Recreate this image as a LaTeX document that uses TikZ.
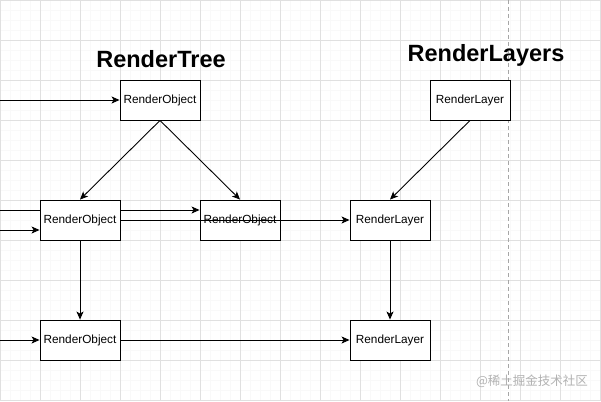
\documentclass[tikz,border=0pt]{standalone}
\usepackage{fontspec}
\setmainfont{Liberation Sans}
\newfontfamily\cjk{Noto Sans CJK SC}
\usetikzlibrary{arrows.meta}
\tikzset{
every picture/.style={
line width=0.9pt
}}

\begin{document}
\begin{tikzpicture}[x=1pt, y=-1pt, >={Stealth[length=8pt,width=7pt,inset=2pt]},
box/.style = {rectangle, draw=black, fill=white, minimum width=80pt, minimum height=40pt, inner sep=0pt, font=\fontsize{11.8}{14}\selectfont},
heading/.style = {font=\fontsize{23.5}{28}\selectfont\bfseries},
minorline/.style = {draw=black!2.5, line width=0.5pt},
majorline/.style = {draw=black!12, line width=0.6pt}]
\useasboundingbox (0,0) rectangle (601,401);
\fill[white] (0,0) rectangle (601,401);
% grid
\foreach \x in {0,10,...,600} \draw[minorline] (\x,0) -- (\x,401);
\foreach \y in {0,10,...,400} \draw[minorline] (0,\y) -- (601,\y);
\foreach \x in {0,40,...,600} \draw[majorline] (\x,0) -- (\x,401);
\foreach \y in {0,40,...,400} \draw[majorline] (0,\y) -- (601,\y);
\draw[dashed, draw=black!35, dash pattern=on 4pt off 3pt] (508,0) -- (508,401);

\node[heading] at (161,59) (treetitle) {RenderTree};
\node[heading] at (486,55) (layertitle) {RenderLayers};

\coordinate (in1) at (0,100);
\coordinate (in2) at (0,210);
\coordinate (in3) at (0,230);
\coordinate (in4) at (0,340);

\node[box] at (160,100) (rotop) {RenderObject};
\node[box] at (240,220) (romid) {RenderObject};
\draw [->] (in2) -- (in2 -| romid.west);
\node[box] at (80,220) (roleft) {RenderObject};
\node[box] at (80,340) (robot) {RenderObject};
\node[box] at (470,100) (rltop) {RenderLayer};
\node[box] at (390,220) (rlmid) {RenderLayer};
\node[box] at (390,340) (rlbot) {RenderLayer};

\draw [->] (in1) -- (rotop.west);
\draw [->] (in3) -- (in3 -| roleft.west);
\draw [->] (in4) -- (robot.west);
\draw [->] (rotop.south) -- (roleft.north);
\draw [->] (rotop.south) -- (romid.north);
\draw [->] (roleft.east) -- (rlmid.west);
\draw [->] (roleft.south) -- (robot.north);
\draw [->] (robot.east) -- (rlbot.west);
\draw [->] (rltop.south) -- (rlmid.north);
\draw [->] (rlmid.south) -- (rlbot.north);

\node[text=black!30, font=\cjk\fontsize{12.5}{15}\selectfont] at (532,381) (mark) {@稀土掘金技术社区};
\end{tikzpicture}
\end{document}
